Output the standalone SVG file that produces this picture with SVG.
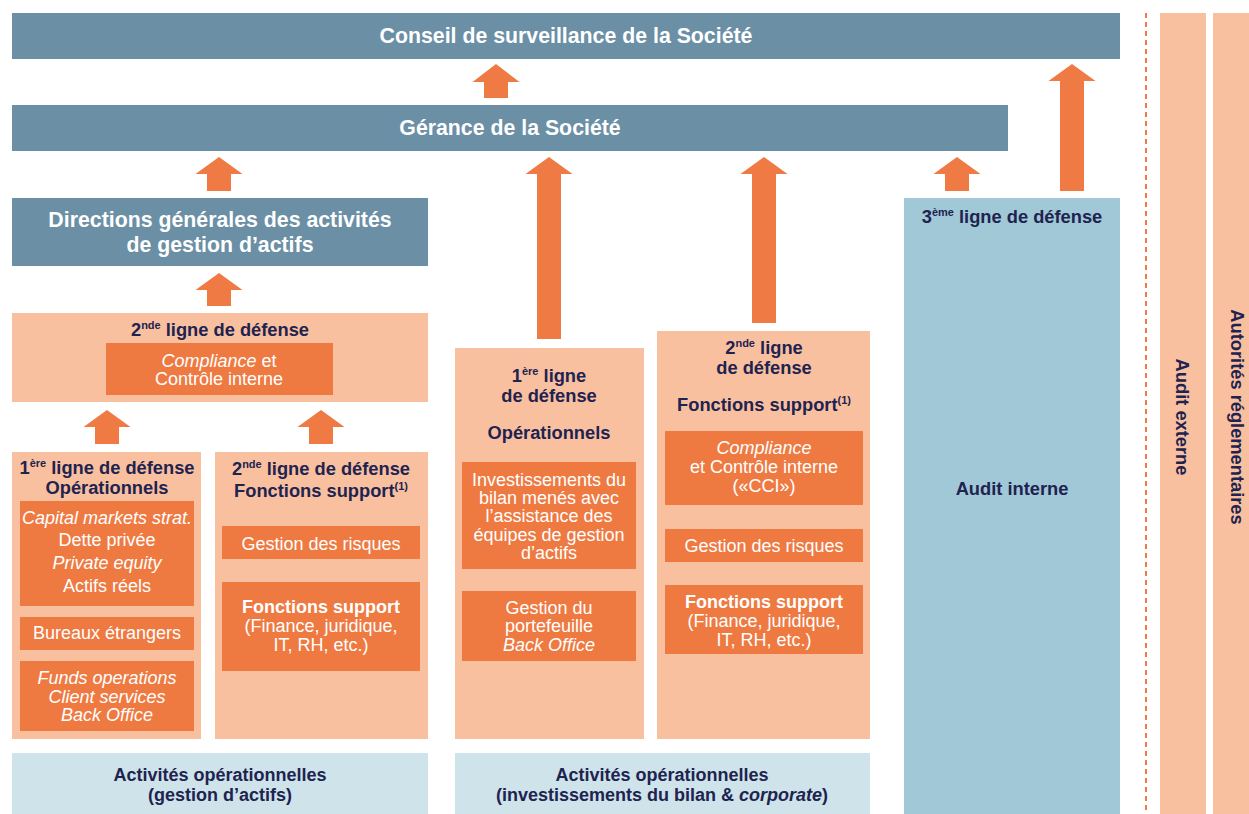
<svg xmlns="http://www.w3.org/2000/svg" width="1249" height="814" viewBox="0 0 1249 814">
<style>
text{font-family:"Liberation Sans",Arial,sans-serif;text-anchor:middle}
.hdr{fill:#6b8fa5}
.hw{fill:#fff;font-weight:bold;font-size:21.3px}
.pale{fill:#f9c09f}
.box{fill:#ee7a42}
.wt{fill:#fff;font-size:18px}
.nt{fill:#1e2350;font-weight:bold;font-size:18.3px}
.sup{font-size:11px}
.it{font-style:italic}
.b{font-weight:bold}
.arrow{fill:#ef7a43}
.lb{fill:#cfe3ea}
.bt{fill:#1e2350;font-weight:bold;font-size:18px}
</style>
<g id="conseil"><rect class="hdr" x="12" y="13" width="1108" height="46"/><text class="hw" x="566" y="43">Conseil de surveillance de la Société</text></g>
<g id="gerance"><rect class="hdr" x="12" y="105" width="996" height="46"/><text class="hw" x="510" y="135">Gérance de la Société</text></g>
<g id="directions"><rect class="hdr" x="12" y="198" width="416" height="68"/><text class="hw" x="220" y="227">Directions générales des activités</text><text class="hw" x="220" y="252">de gestion d’actifs</text></g>
<g id="ligne2-top"><rect class="pale" x="12" y="313" width="416" height="89"/><text class="nt" x="220" y="336">2<tspan class="sup" dy="-7">nde</tspan><tspan dy="7"> ligne de défense</tspan></text>
<rect class="box" x="106" y="343" width="227" height="52"/><text class="wt" x="219" y="367"><tspan class="it">Compliance</tspan> et</text><text class="wt" x="219" y="385">Contrôle interne</text></g>
<g id="ligne1-gestion"><rect class="pale" x="12" y="452" width="189" height="287"/><text class="nt" x="107" y="474">1<tspan class="sup" dy="-7">ère</tspan><tspan dy="7"> ligne de défense</tspan></text><text class="nt" x="107" y="494">Opérationnels</text>
<rect class="box" x="20" y="501" width="174" height="105"/><text class="wt it" x="107" y="524">Capital markets strat.</text><text class="wt" x="107" y="546">Dette privée</text><text class="wt it" x="107" y="569">Private equity</text><text class="wt" x="107" y="592">Actifs réels</text>
<rect class="box" x="20" y="617" width="174" height="33"/><text class="wt" x="107" y="639">Bureaux étrangers</text>
<rect class="box" x="20" y="661" width="174" height="70"/><text class="wt it" x="107" y="684">Funds operations</text><text class="wt it" x="107" y="703">Client services</text><text class="wt it" x="107" y="721">Back Office</text></g>
<g id="ligne2-gestion"><rect class="pale" x="215" y="452" width="213" height="287"/><text class="nt" x="321" y="475">2<tspan class="sup" dy="-7">nde</tspan><tspan dy="7"> ligne de défense</tspan></text><text class="nt" x="321" y="497">Fonctions support<tspan class="sup" dy="-7">(1)</tspan></text>
<rect class="box" x="222" y="526" width="198" height="33"/><text class="wt" x="321" y="550">Gestion des risques</text>
<rect class="box" x="222" y="582" width="198" height="89"/><text class="wt b" x="321" y="613">Fonctions support</text><text class="wt" x="321" y="632">(Finance, juridique,</text><text class="wt" x="321" y="651">IT, RH, etc.)</text></g>
<g id="ligne1-bilan"><rect class="pale" x="455" y="348" width="189" height="391"/><text class="nt" x="549" y="382">1<tspan class="sup" dy="-7">ère</tspan><tspan dy="7"> ligne</tspan></text><text class="nt" x="549" y="402">de défense</text><text class="nt" x="549" y="439">Opérationnels</text>
<rect class="box" x="462" y="462" width="174" height="107"/><text class="wt" x="549" y="486">Investissements du</text><text class="wt" x="549" y="504">bilan menés avec</text><text class="wt" x="549" y="522">l’assistance des</text><text class="wt" x="549" y="541">équipes de gestion</text><text class="wt" x="549" y="559">d’actifs</text>
<rect class="box" x="462" y="591" width="174" height="70"/><text class="wt" x="549" y="614">Gestion du</text><text class="wt" x="549" y="632">portefeuille</text><text class="wt it" x="549" y="651">Back Office</text></g>
<g id="ligne2-bilan"><rect class="pale" x="657" y="331" width="213" height="408"/><text class="nt" x="764" y="354">2<tspan class="sup" dy="-7">nde</tspan><tspan dy="7"> ligne</tspan></text><text class="nt" x="764" y="374">de défense</text><text class="nt" x="764" y="411">Fonctions support<tspan class="sup" dy="-7">(1)</tspan></text>
<rect class="box" x="665" y="431" width="198" height="74"/><text class="wt it" x="764" y="454">Compliance</text><text class="wt" x="764" y="473">et Contrôle interne</text><text class="wt" x="764" y="492">(«CCI»)</text>
<rect class="box" x="665" y="529" width="198" height="33"/><text class="wt" x="764" y="552">Gestion des risques</text>
<rect class="box" x="665" y="585" width="198" height="69"/><text class="wt b" x="764" y="608">Fonctions support</text><text class="wt" x="764" y="627">(Finance, juridique,</text><text class="wt" x="764" y="646">IT, RH, etc.)</text></g>
<g id="ligne3"><rect fill="#a1c8d6" x="904" y="198" width="216" height="616"/><text class="nt" x="1012" y="223">3<tspan class="sup" dy="-7">ème</tspan><tspan dy="7"> ligne de défense</tspan></text><text class="nt" x="1012" y="495">Audit interne</text></g>
<g id="activites-gestion"><rect class="lb" x="12" y="753" width="416" height="61"/><text class="bt" x="220" y="781">Activités opérationnelles</text><text class="bt" x="220" y="801">(gestion d’actifs)</text></g>
<g id="activites-bilan"><rect class="lb" x="455" y="753" width="415" height="61"/><text class="bt" x="662" y="781">Activités opérationnelles</text><text class="bt" x="662" y="801">(investissements du bilan &amp; <tspan class="it">corporate</tspan>)</text></g>
<g id="audit-externe"><rect class="pale" x="1160" y="13" width="46" height="801"/><text class="nt" transform="translate(1182,417) rotate(90)" y="6">Audit externe</text></g>
<g id="autorites"><rect class="pale" x="1213" y="13" width="50" height="801"/><text class="nt" transform="translate(1237,417) rotate(90)" y="6">Autorités réglementaires</text></g>
<g id="connectors">
<line x1="1146" y1="13" x2="1146" y2="814" stroke="#ef7a43" stroke-width="2" stroke-dasharray="5,4"/>
<path class="arrow" d="M496 64 L519.5 82 L508 82 L508 98 L484 98 L484 82 L472.5 82 Z"/>
<path class="arrow" d="M1072 64 L1095.5 81 L1084 81 L1084 191 L1060 191 L1060 81 L1048.5 81 Z"/>
<path class="arrow" d="M219 157 L242.5 174 L231 174 L231 191 L207 191 L207 174 L195.5 174 Z"/>
<path class="arrow" d="M549 157 L572.5 174 L561 174 L561 339 L537 339 L537 174 L525.5 174 Z"/>
<path class="arrow" d="M764 157 L787.5 174 L776 174 L776 323 L752 323 L752 174 L740.5 174 Z"/>
<path class="arrow" d="M957 157 L980.5 174 L969 174 L969 191 L945 191 L945 174 L933.5 174 Z"/>
<path class="arrow" d="M219 273 L242.5 290 L231 290 L231 306 L207 306 L207 290 L195.5 290 Z"/>
<path class="arrow" d="M107 410 L130.5 427 L119 427 L119 444 L95 444 L95 427 L83.5 427 Z"/>
<path class="arrow" d="M321 410 L344.5 427 L333 427 L333 444 L309 444 L309 427 L297.5 427 Z"/>
</g>
</svg>
